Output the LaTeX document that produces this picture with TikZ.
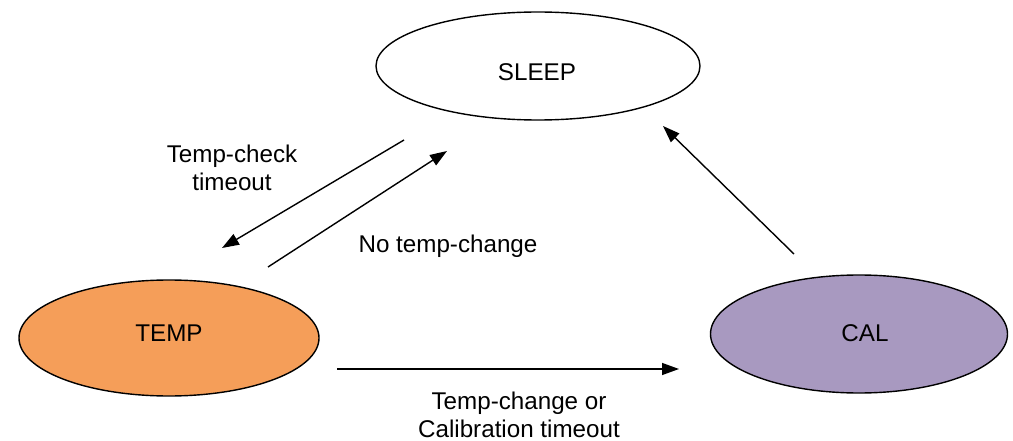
\documentclass[tikz,border=0pt]{standalone}
\usepackage{fontspec}
\setmainfont{Liberation Sans}
\usetikzlibrary{shapes.geometric,arrows.meta}
\definecolor{tempfill}{RGB}{245,158,89}
\definecolor{calfill}{RGB}{168,153,192}
\tikzset{
  state/.style={ellipse,draw=black,line width=1.4pt,inner sep=0pt},
  conn/.style={line width=1.4pt,-{Triangle[length=17pt,width=12pt]}},
  lbl/.style={font=\fontsize{24.2}{28}\selectfont,align=center},
}
\begin{document}
\begin{tikzpicture}[x=1pt,y=-1pt]
\useasboundingbox (0,0) rectangle (1013,441);
\node[state,minimum width=324pt,minimum height=108pt,fill=white] (sleep) at (538,66) {};
\node[lbl] (sleeptxt) at (537,72) {SLEEP};
\node[state,minimum width=300pt,minimum height=116pt,fill=tempfill] (temp) at (169,338) {};
\node[lbl] (temptxt) at (169,333) {TEMP};
\node[state,minimum width=297pt,minimum height=118pt,fill=calfill] (cal) at (859,334) {};
\node[lbl] (caltxt) at (865,333) {CAL};
\coordinate (a1s) at (404,140);
\coordinate (a1e) at (222,248);
\coordinate (a2s) at (268,267);
\coordinate (a2e) at (447,151);
\coordinate (a3s) at (794,254);
\coordinate (a3e) at (663,126);
\coordinate (a4s) at (337,369);
\coordinate (a4e) at (679,369);
\draw[conn] (a1s) -- (a1e);
\draw[conn] (a2s) -- (a2e);
\draw[conn] (a3s) -- (a3e);
\draw[conn] (a4s) -- (a4e);
\node[lbl] (l1) at (232,168) {Temp-check\\timeout};
\node[lbl] (l2) at (448,246) {No temp-change};
\node[lbl] (l3) at (519,415) {Temp-change or\\Calibration timeout};
\end{tikzpicture}
\end{document}
